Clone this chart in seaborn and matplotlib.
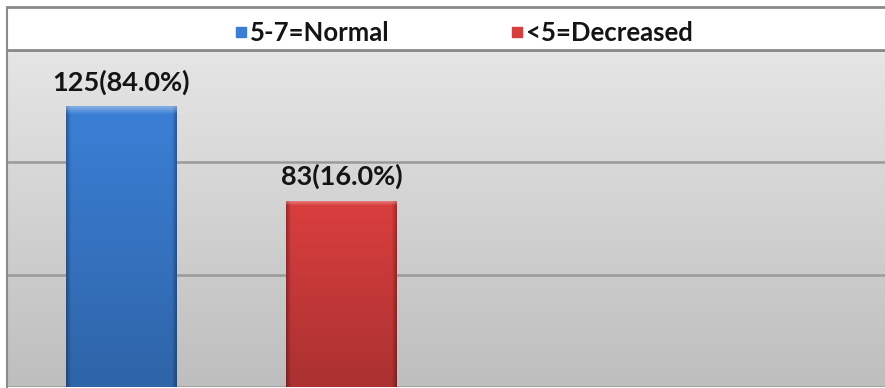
import numpy as np
import pandas as pd
import matplotlib
matplotlib.use("Agg")
import matplotlib.pyplot as plt
import matplotlib.colors as mcolors
from matplotlib.lines import Line2D
import seaborn as sns

# Data
categories = ["5-7=Normal", "<5=Decreased"]
counts = [125, 83]
percents = [84.0, 16.0]
bar_colors = ["#3a7dd2", "#d63d3d"]
y_ticks = [0, 50, 100, 150]

df = pd.DataFrame({"group": categories, "count": counts})

sns.set_theme(style="white")
plt.rcParams["font.family"] = ["Lato", "DejaVu Sans"]

W, H = 885, 388
fig = plt.figure(figsize=(W / 100, H / 100), dpi=100)
fig.patch.set_facecolor("white")

# plot area: from just above the bottom edge up to the legend strip
ax = fig.add_axes([7 / W, 1 / H, (W - 7) / W, 337 / H])

sns.barplot(data=df, x="group", y="count", hue="group", palette=bar_colors,
            width=0.5, saturation=1, legend=False, ax=ax, zorder=3,
            linewidth=0)

# grey vertical gradient behind the bars
bg = np.linspace(0.745, 0.900, 256)[:, None]
bg_rgb = np.dstack([bg, bg, bg])
ax.imshow(bg_rgb, extent=(0, 1, 0, 1), transform=ax.transAxes,
          aspect="auto", origin="lower", zorder=0, interpolation="bicubic")


def shaded(color, h=120, w=80):
    """Bevelled bar fill: lighter top, darker sides and bottom."""
    base = np.array(mcolors.to_rgb(color))
    yy = np.linspace(0, 1, h)[:, None]          # 0 = bottom, 1 = top
    xx = np.linspace(0, 1, w)[None, :]
    vert = 0.80 + 0.22 * yy
    edge = np.minimum(xx, 1 - xx)
    side = np.where(edge < 0.04, 0.72 + 7.0 * edge, 1.0)
    fac = vert * side
    img = np.clip(base[None, None, :] * fac[:, :, None], 0, 1)
    # soft highlight along the top rim
    top = np.clip((yy - 0.975) / 0.025, 0, 1)[:, :, None]
    img = img * (1 - 0.35 * top) + 0.35 * top * np.ones(3)
    return img


for patch, col in zip(ax.patches, bar_colors):
    x0, y0 = patch.get_x(), patch.get_y()
    bw, bh = patch.get_width(), patch.get_height()
    im = ax.imshow(shaded(col), extent=(x0, x0 + bw, y0, y0 + bh),
                   origin="lower", aspect="auto", zorder=4,
                   interpolation="bilinear")
    im.set_clip_path(patch)

# value labels
for i, (c, p) in enumerate(zip(counts, percents)):
    ax.annotate(f"{c}({p:.1f}%)", xy=(i, c), xytext=(0, 11),
                textcoords="offset points", ha="center", va="baseline",
                fontsize=19.5, fontweight="bold", color="#141414", zorder=6)

ax.set_xlim(-0.517, 3.465)
ax.set_ylim(0, 150)
ax.set_yticks(y_ticks)
ax.yaxis.grid(True, color="#9a9a9a", linewidth=1.8, zorder=1)
ax.set_axisbelow(True)
ax.tick_params(left=False, bottom=False, labelleft=False, labelbottom=False)
ax.set_xlabel("")
ax.set_ylabel("")
for side in ["right", "bottom"]:
    ax.spines[side].set_visible(False)
ax.spines["top"].set_color("#8a8a8a")
ax.spines["top"].set_linewidth(2.0)
ax.spines["left"].set_color("#8a8a8a")
ax.spines["left"].set_linewidth(1.5)

# outer frame of the legend strip
fig.add_artist(Line2D([7 / W, 1], [1 - 7 / H, 1 - 7 / H],
                      color="#8a8a8a", linewidth=2.0))
fig.add_artist(Line2D([7 / W, 7 / W], [1 - 7 / H, 1 - 50 / H],
                      color="#8a8a8a", linewidth=1.5))

handles = [Line2D([], [], linestyle="none", marker="s", markersize=6.5,
                  markerfacecolor=c, markeredgecolor=c) for c in bar_colors]
fig.legend(handles, categories, loc="center",
           bbox_to_anchor=(464 / W, 1 - 33 / H), ncol=2, frameon=False,
           prop={"weight": "bold", "size": 18.5}, handlelength=0.45,
           handletextpad=0.15, columnspacing=4.7, labelcolor="#141414")

fig.savefig("out.png", dpi=100)
